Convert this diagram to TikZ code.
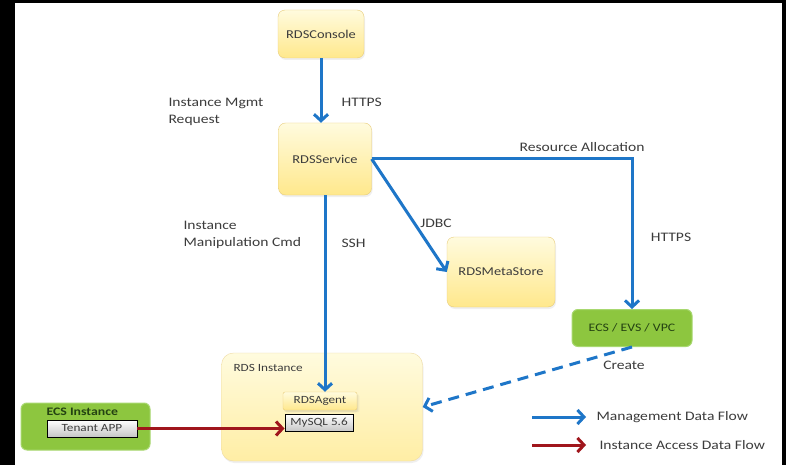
\documentclass[tikz,border=0pt]{standalone}
\usepackage{fontspec}
\setmainfont{Carlito}[FakeStretch=1.2]
\usetikzlibrary{arrows.meta,shadows}
\definecolor{ylwtop}{RGB}{255,251,222}
\definecolor{ylwbot}{RGB}{255,232,140}
\definecolor{ylwline}{RGB}{232,204,122}
\definecolor{grn}{RGB}{141,198,63}
\definecolor{grnline}{RGB}{168,216,112}
\definecolor{grntxt}{RGB}{36,66,18}
\definecolor{mgmt}{RGB}{30,118,200}
\definecolor{access}{RGB}{160,22,28}
\definecolor{txt}{RGB}{60,60,60}
\begin{document}
\begin{tikzpicture}[x=1pt,y=-1pt,
	ybox/.style={draw=ylwline,rounded corners=7pt,top color=ylwtop,bottom color=ylwbot,text=txt,font=\fontsize{12}{14}\selectfont,drop shadow={opacity=0.12,shadow xshift=1pt,shadow yshift=-2pt}},
	gbox/.style={draw=grnline,line width=1pt,fill=grn,rounded corners=6pt,text=grntxt},
	sbox/.style={draw=black,line width=0.9pt,top color=white,bottom color=gray!45,minimum height=17pt,inner sep=0pt,font=\fontsize{11}{13}\selectfont,text=txt},
	lbl/.style={text=txt,font=\fontsize{13}{17}\selectfont,align=left},
	mflow/.style={draw=mgmt,line width=3pt,-{Straight Barb[length=6.5pt,width=14pt]}},
	aflow/.style={draw=access,line width=3pt,-{Straight Barb[length=6.5pt,width=14pt]}}]
				\useasboundingbox (0,0) rectangle (786,465);
				\fill[black] (0,0) rectangle (786,465);
				\fill[white] (15,3) rectangle (782,465);
				\node[ybox,minimum width=86pt,minimum height=48pt](con) at (321,34){RDSConsole};
				\node[ybox,minimum width=93pt,minimum height=72pt](srv) at (325,159){RDSService};
				\node[ybox,minimum width=108pt,minimum height=70pt](meta) at (501,272){RDSMetaStore};
				\node[gbox,minimum width=120pt,minimum height=37pt,font=\fontsize{11.5}{13}\selectfont](ecs) at (632,328){ECS / EVS / VPC};
				\node[ybox,draw=ylwline!70,bottom color=ylwbot!70!ylwtop,rounded corners=12pt,minimum width=201pt,minimum height=108pt](inst) at (322,407){};
				\node[lbl,anchor=west,font=\fontsize{11}{13}\selectfont](instl) at (230,368){RDS Instance};
				\node[ybox,rounded corners=2pt,inner sep=0pt,minimum width=74pt,minimum height=18pt,font=\fontsize{11}{13}\selectfont,drop shadow={opacity=0.08}](agent) at (320,401){RDSAgent};
				\node[sbox,minimum width=68pt](mysql) at (319,423){MySQL 5.6};
				\node[gbox,minimum width=129pt,minimum height=47pt](ecsi) at (85.5,426.5){};
				\node[anchor=west,text=grntxt,font=\fontsize{11.5}{13}\selectfont\bfseries](ecsl) at (43,412){ECS Instance};
				\node[sbox,minimum width=90pt](app) at (92,428.5){Tenant APP};
				\node[lbl,anchor=west](mgmtreq) at (165,112){Instance Mgmt\\Request};
				\node[lbl,anchor=west](https1) at (338,102){HTTPS};
				\node[lbl,anchor=west](manip) at (180,235){Instance\\Manipulation Cmd};
				\node[lbl,anchor=west](ssh) at (338,243){SSH};
				\node[lbl](jdbc) at (436,223){JDBC};
				\node[lbl](alloc) at (582,147){Resource Allocation};
				\node[lbl](https2) at (671,237){HTTPS};
				\node[lbl](create) at (624,365){Create};
				\coordinate(m1) at (532,417);
				\coordinate(m2) at (586,417);
				\coordinate(a1) at (532,445);
				\coordinate(a2) at (586,445);
				\node[lbl,anchor=west](mtxt) at (593,417){Management Data Flow};
				\node[lbl,anchor=west](atxt) at (596,445){Instance Access Data Flow};
				\draw[mflow](con.south) to (con.south |- srv.north);
				\draw[mflow](srv.south) to (srv.south |- agent.north);
				\draw[mflow](srv.east) to (ecs.north |- srv.east) to (ecs.north);
				\draw[mflow](srv.east) to (meta.west);
				\draw[mflow,dash pattern=on 11pt off 7pt](ecs.south) to (inst.east);
				\draw[aflow](app.east) to (app.east -| mysql.west);
				\draw[mflow](m1) to (m2);
				\draw[aflow](a1) to (a2);
			\end{tikzpicture}
\end{document}
